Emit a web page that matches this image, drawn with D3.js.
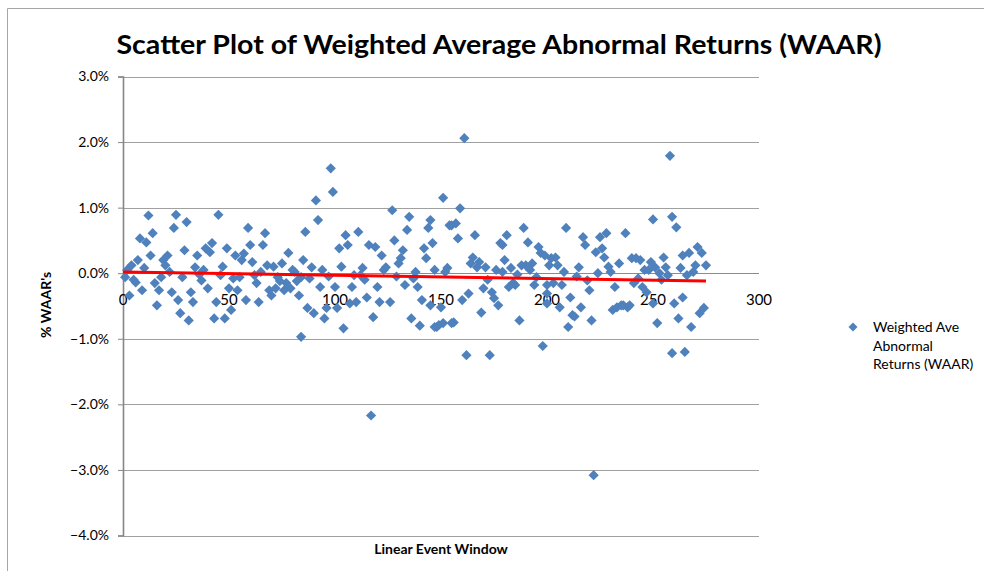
<!DOCTYPE html>
<html>
<head>
<meta charset="utf-8">
<script src="https://cdn.jsdelivr.net/npm/d3@7"></script>
<style>
  body { margin: 0; background: #fff; }
  text { font-family: Lato, "Open Sans", sans-serif; fill: #000; }
</style>
</head>
<body>
<script>
// event day (x) and weighted average abnormal return in % (y)
let eventDay = [1,3,5,6,4,7,8,11,12,14,13,9,10,15,17,16,18,19,21,20,22,23,25,24,30,29,28,26,27,31,
  32,33,34,35,37,38,40,39,42,41,45,44,43,48,46,49,51,50,53,54,55,56,59,60,61,58,62,63,65,64,
  67,66,69,70,72,73,75,78,76,79,81,83,85,84,86,87,90,89,88,92,91,93,94,95,84,96,100,102,105,106,
  111,108,109,101,104,107,113,112,116,119,115,118,120,121,122,124,126,127,128,130,131,132,133,134,
  135,136,138,137,139,140,141,142,143,144,145,146,147,145,149,150,151,153,154,157,156,155,158,159,
  160,161,162,164,165,166,167,168,171,169,163,170,173,174,175,177,178,181,179,180,182,184,185,187,
  189,188,190,191,193,196,197,199,198,202,204,201,205,194,200,203,200,200,206,207,209,211,210,212,
  215,216,217,218,219,220,221,222,223,225,228,226,227,224,230,232,231,233,234,235,238,237,240,242,
  241,244,245,246,247,249,250,252,251,253,255,256,257,258,259,261,260,262,264,264,266,267,268,269,
  270,271,273,272,274,275,259,265,148,151,98,99,117,110,147,213,236,239,250,155,179,57,71,77,80,82,
  2,36,47,52,68,74,97,103,114,123,129,152,172,176,183,186,192,195,208,214,229,243,248,254,263];
let waar = [-0.06,-0.34,-0.10,-0.14,0.12,0.20,0.53,0.47,0.88,0.61,0.27,-0.26,0.08,-0.15,-0.26,-0.49,-0.06,0.20,0.27,0.12,0.02,-0.29,0.89,0.69,0.78,0.35,-0.06,-0.41,-0.61,-0.72,
  -0.29,-0.44,0.09,0.27,-0.11,0.05,-0.23,0.38,0.46,0.32,0.89,-0.44,-0.69,-0.69,-0.03,0.38,-0.56,-0.23,0.27,-0.26,-0.06,0.20,0.69,0.43,0.17,-0.41,-0.03,-0.15,0.02,-0.44,
  0.61,0.43,-0.26,-0.34,-0.23,-0.06,0.15,0.31,-0.26,-0.23,0.02,-0.34,0.20,-0.06,0.63,-0.53,-0.61,0.09,-0.08,0.81,1.11,-0.21,0.05,-0.69,-0.97,-0.53,-0.21,0.38,0.58,0.43,
  0.63,-0.21,-0.03,-0.53,-0.84,-0.46,0.08,-0.03,0.43,0.40,-0.37,-0.67,-0.21,-0.44,0.27,0.09,-0.44,0.96,0.50,0.15,0.23,0.35,-0.18,0.66,
  0.86,-0.69,0.02,-0.08,-0.21,-0.80,-0.41,0.38,0.23,0.69,0.81,0.46,0.05,-0.49,-0.79,-0.52,1.15,0.08,0.73,0.76,-0.75,-0.76,0.53,0.99,
  -0.41,2.06,-1.25,0.15,0.24,0.58,0.09,0.17,0.09,-0.60,-0.31,-0.23,-1.25,-0.29,-0.38,-0.49,0.46,0.58,0.02,0.20,-0.21,-0.15,-0.18,-0.72,
  0.69,0.12,0.12,0.47,0.15,0.40,0.31,0.27,-1.11,0.23,0.24,0.12,0.12,-0.18,-0.18,-0.15,-0.31,-0.46,-0.52,-0.18,0.69,-0.37,-0.82,-0.64,
  0.09,-0.52,0.55,0.43,-0.11,-0.26,-0.72,-3.08,0.32,0.55,0.61,0.38,0.24,0.00,0.02,-0.21,-0.56,-0.52,0.15,-0.49,-0.52,0.61,0.23,0.23,
  -0.15,0.20,-0.21,0.05,-0.29,0.17,0.82,-0.76,0.09,0.00,0.24,0.09,-0.03,1.79,0.86,0.70,-0.46,-0.69,-0.37,0.27,-0.03,0.31,-0.82,0.02,
  0.12,0.40,0.31,-0.61,-0.53,0.12,-1.22,-1.20,-0.82,-0.76,1.60,1.24,-2.17,-0.44,-0.82,-0.66,-0.49,-0.49,-0.46,0.73,0.43,0.30,0.10,-0.15,0.05,-0.12,
  0.05,-0.02,0.10,-0.08,0.12,-0.12,-0.05,0.10,-0.10,0.05,-0.05,0.02,-0.10,0.05,0.08,-0.02,0.05,-0.06,0.02,-0.05,0.10,-0.08,0.05,-0.10,0.08];

// linear trend line end points (as drawn in the picture)
let trendDay = [0, 275];
let trendWaar = [0.02, -0.12];

let xTicks = [0, 50, 100, 150, 200, 250, 300];
let yTicks = [3, 2, 1, 0, -1, -2, -3, -4];

let width = 984;
let height = 571;

let svg = d3.select("body")
    .append("svg")
    .attr("width", width)
    .attr("height", height);

// chart border
svg.append("path")
    .attr("d", "M7.5,571V8.5H984")
    .attr("fill", "none")
    .attr("stroke", "#a6a6a6");

let x = d3.scaleLinear().domain([0, 300]).range([123, 759]);
let y = d3.scaleLinear().domain([-4, 3]).range([535.5, 76.5]);

// gridlines
svg.append("g")
    .selectAll("line")
    .data(yTicks)
    .enter()
    .append("line")
    .attr("x1", x(0))
    .attr("x2", x(300))
    .attr("y1", d => Math.round(y(d)) + 0.5)
    .attr("y2", d => Math.round(y(d)) + 0.5)
    .attr("stroke", d => d == 0 ? "#8c8c8c" : "#a0a0a0")
    .attr("stroke-width", 1.2);

// y axis
let yAxis = svg.append("g")
    .attr("transform", `translate(${x(0)},0)`)
    .call(d3.axisLeft(y).tickValues(yTicks).tickSize(5).tickPadding(9)
        .tickFormat(d => d3.format(".1f")(d) + "%"));
yAxis.select(".domain").attr("stroke", "#868686").attr("stroke-width", 1.6);
yAxis.selectAll(".tick line").attr("stroke", "#868686");
yAxis.selectAll(".tick text")
    .attr("font-size", 14)
    .attr("font-family", "Lato, sans-serif")
    .attr("fill", "#000");

// x tick labels (sit just under the zero line)
svg.append("g")
    .selectAll("text")
    .data(xTicks)
    .enter()
    .append("text")
    .attr("x", d => x(d))
    .attr("y", y(0) + 32)
    .attr("text-anchor", "middle")
    .attr("font-size", 15)
    .text(d => d);

// points
svg.append("g")
    .selectAll("path")
    .data(eventDay)
    .enter()
    .append("path")
    .attr("d", d3.symbol(d3.symbolSquare, 52))
    .attr("transform", (d, i) => `translate(${x(d)},${y(waar[i])}) rotate(45)`)
    .attr("fill", "#4f81bd");

// trend line
svg.append("line")
    .attr("x1", x(trendDay[0]))
    .attr("x2", x(trendDay[1]))
    .attr("y1", y(trendWaar[0]))
    .attr("y2", y(trendWaar[1]))
    .attr("stroke", "#ff0000")
    .attr("stroke-width", 3);

// titles
svg.append("text")
    .attr("x", 499)
    .attr("y", 54)
    .attr("text-anchor", "middle")
    .attr("font-size", 27)
    .attr("font-weight", "bold")
    .attr("textLength", 765)
    .attr("lengthAdjust", "spacingAndGlyphs")
    .text("Scatter Plot of Weighted Average Abnormal Returns (WAAR)");

svg.append("text")
    .attr("transform", "translate(51,305) rotate(-90)")
    .attr("text-anchor", "middle")
    .attr("font-size", 14)
    .attr("font-weight", "bold")
    .text("% WAAR's");

svg.append("text")
    .attr("x", 441)
    .attr("y", 554)
    .attr("text-anchor", "middle")
    .attr("font-size", 14)
    .attr("font-weight", "bold")
    .text("Linear Event Window");

// legend
let legend = svg.append("g").attr("transform", "translate(853,327)");
legend.append("path")
    .attr("d", d3.symbol(d3.symbolSquare, 40))
    .attr("transform", "rotate(45)")
    .attr("fill", "#4f81bd");
legend.selectAll("text")
    .data(["Weighted Ave", "Abnormal", "Returns (WAAR)"])
    .enter()
    .append("text")
    .attr("x", 20)
    .attr("y", (d, i) => 5 + i * 18.5)
    .attr("font-size", 14)
    .text(d => d);
</script>
</body>
</html>
